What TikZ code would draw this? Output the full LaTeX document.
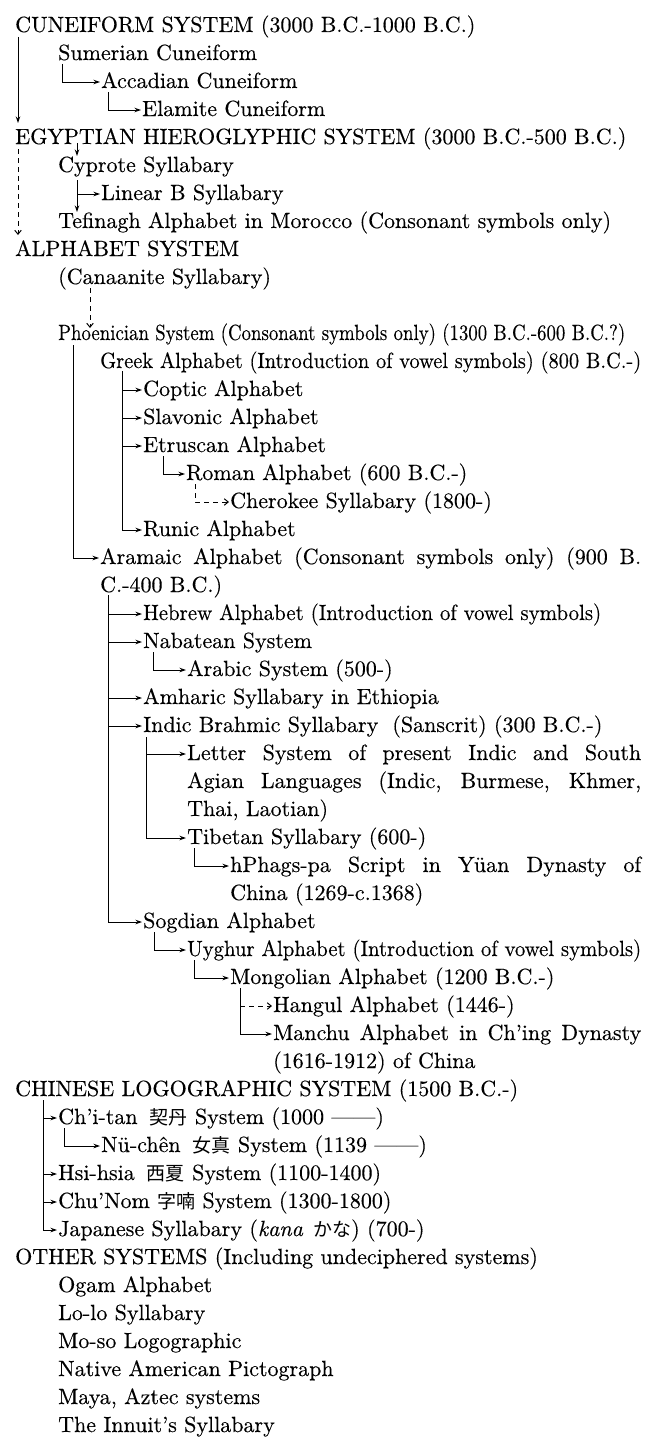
\documentclass[tikz,border=0pt]{standalone}
\usepackage{fontspec}
\setmainfont{lmroman10-regular.otf}[ItalicFont=lmroman10-italic.otf,FakeBold=0.3]
\newfontfamily\cjk{Noto Sans CJK JP}
\usetikzlibrary{arrows.meta,calc}
\newcommand{\cnd}[2]{\resizebox{#1pt}{\height}{#2}}
\newcommand{\jst}[2]{\makebox[#1pt][s]{#2}}
\newcommand{\cj}[1]{{\cjk\fontsize{19}{22}\selectfont #1}}
\begin{document}
\begin{tikzpicture}[x=1pt,y=-1pt,
  t/.style={anchor=base west,inner sep=0pt,font=\fontsize{22}{26}\selectfont},
  ln/.style={line width=1pt,-{Stealth[length=6.5pt,width=4.5pt]}},
  dl/.style={line width=1pt,dash pattern=on 5pt off 4pt,-{Straight Barb[length=4pt,width=6.5pt]}},
]
\useasboundingbox (0,0) rectangle (658,1437);
% ---------- text lines ----------
\node[t] (cun) at (15,32) {CUNEIFORM SYSTEM (3000 B.C.-1000 B.C.)};
\node[t] (sum) at (58,60) {Sumerian Cuneiform};
\node[t] (acc) at (101,88) {Accadian Cuneiform};
\node[t] (ela) at (142,116) {Elamite Cuneiform};
\node[t] (egy) at (15,144) {EGYPTIAN HIEROGLYPHIC SYSTEM (3000 B.C.-500 B.C.)};
\node[t] (cyp) at (58,172) {Cyprote Syllabary};
\node[t] (lin) at (101,200) {Linear B Syllabary};
\node[t] (tef) at (58,228) {Tefinagh Alphabet in Morocco (Consonant symbols only)};
\node[t] (alp) at (15,256) {ALPHABET SYSTEM};
\node[t] (can) at (58,284) {(Canaanite Syllabary)};
\node[t] (pho) at (58,340) {\cnd{567}{Phoenician System (Consonant symbols only) (1300 B.C.-600 B.C.?)}};
\node[t] (gre) at (100,368) {\cnd{541}{Greek Alphabet (Introduction of vowel symbols) (800 B.C.-)}};
\node[t] (cop) at (143,396) {Coptic Alphabet};
\node[t] (sla) at (143,424) {Slavonic Alphabet};
\node[t] (etr) at (143,452) {Etruscan Alphabet};
\node[t] (rom) at (186,480) {Roman Alphabet (600 B.C.-)};
\node[t] (che) at (230,508) {Cherokee Syllabary (1800-)};
\node[t] (run) at (143,536) {Runic Alphabet};
\node[t] (ara) at (100,564) {\jst{541}{Aramaic Alphabet (Consonant symbols only) (900 B.}};
\node[t] (ara2) at (100,592) {C.-400 B.C.)};
\node[t] (heb) at (143,620) {\cnd{458}{Hebrew Alphabet (Introduction of vowel symbols)}};
\node[t] (nab) at (143,648) {Nabatean System};
\node[t] (arb) at (187,676) {Arabic System (500-)};
\node[t] (amh) at (143,704) {Amharic Syllabary in Ethiopia};
\node[t] (ind) at (143,732) {Indic Brahmic Syllabary\hspace{14pt}(Sanscrit) (300 B.C.-)};
\node[t] (let) at (187,760) {\jst{454}{Letter System of present Indic and South}};
\node[t] (let2) at (187,788) {\jst{454}{Agian Languages (Indic, Burmese, Khmer,}};
\node[t] (let3) at (187,816) {Thai, Laotian)};
\node[t] (tib) at (187,844) {Tibetan Syllabary (600-)};
\node[t] (hph) at (230,872) {\jst{411}{hPhags-pa Script in Yüan Dynasty of}};
\node[t] (hph2) at (230,900) {China (1269-c.1368)};
\node[t] (sog) at (143,928) {Sogdian Alphabet};
\node[t] (uyg) at (187,956) {\cnd{454}{Uyghur Alphabet (Introduction of vowel symbols)}};
\node[t] (mon) at (230,984) {Mongolian Alphabet (1200 B.C.-)};
\node[t] (hng) at (273,1012) {Hangul Alphabet (1446-)};
\node[t] (man) at (273,1040) {\jst{368}{Manchu Alphabet in Ch’ing Dynasty}};
\node[t] (man2) at (273,1068) {(1616-1912) of China};
\node[t] (chi) at (15,1096) {CHINESE LOGOGRAPHIC SYSTEM (1500 B.C.-)};
\node[t] (cht) at (58,1124) {Ch’i-tan\hspace{12pt}\cj{契丹} System (1000 ——)};
\node[t] (nuc) at (101,1152) {Nü-chên\hspace{12pt}\cj{女真} System (1139 ——)};
\node[t] (hsi) at (58,1180) {Hsi-hsia\hspace{12pt}\cj{西夏} System (1100-1400)};
\node[t] (chu) at (58,1208) {Chu’Nom \cj{字喃} System (1300-1800)};
\node[t] (jap) at (58,1236) {Japanese Syllabary (\textit{kana}\hspace{10pt}\cj{かな}) (700-)};
\node[t] (oth) at (15,1264) {OTHER SYSTEMS (Including undeciphered systems)};
\node[t] (oga) at (58,1292) {Ogam Alphabet};
\node[t] (lol) at (58,1320) {Lo-lo Syllabary};
\node[t] (mos) at (58,1348) {Mo-so Logographic};
\node[t] (nat) at (58,1376) {Native American Pictograph};
\node[t] (may) at (58,1404) {Maya, Aztec systems};
\node[t] (inn) at (58,1432) {The Innuit’s Syllabary};
% ---------- arrow entry points ----------
\foreach \n in {acc,ela,lin,cop,sla,etr,rom,che,run,ara,heb,nab,arb,amh,ind,let,tib,hph,sog,uyg,mon,hng,man,cht,nuc,hsi,chu,jap}
  {\coordinate (\n-in) at ($(\n.base west)+(-1,-6)$);}
% ---------- vertical starts ----------
\coordinate (cunv) at ($(cun.base west)+(3,5)$);
\coordinate (egyv) at ($(egy.base west)+(3,5)$);
\coordinate (egyc) at ($(egy.base west)+(62,-1)$);
\coordinate (sumv) at ($(sum.base west)+(4,4)$);
\coordinate (accv) at ($(acc.base west)+(7,4)$);
\coordinate (cypv) at ($(cyp.base west)+(19,8)$);
\coordinate (canv) at ($(can.base west)+(32,4)$);
\coordinate (phov) at ($(pho.base west)+(15,5)$);
\coordinate (grev) at ($(gre.base west)+(22,3)$);
\coordinate (etrv) at ($(etr.base west)+(20,4)$);
\coordinate (romv) at ($(rom.base west)+(9,4)$);
\coordinate (arav) at ($(ara2.base west)+(8,3)$);
\coordinate (nabv) at ($(nab.base west)+(10,4)$);
\coordinate (indv) at ($(ind.base west)+(3,5)$);
\coordinate (tibv) at ($(tib.base west)+(7,4)$);
\coordinate (sogv) at ($(sog.base west)+(11,4)$);
\coordinate (uygv) at ($(uyg.base west)+(7,4)$);
\coordinate (monv) at ($(mon.base west)+(10,4)$);
\coordinate (chiv) at ($(chi.base west)+(28,4)$);
\coordinate (chtv) at ($(cht.base west)+(6,4)$);
% ---------- connectors ----------
\draw[ln] (cunv) -- ($(egy.base west)+(3,-21)$);
\draw[ln] (sumv) |- (acc-in);
\draw[ln] (accv) |- (ela-in);
\draw[dl] (egyv) -- ($(alp.base west)+(3,-21)$);
\draw[ln] (egyc) -- ($(cyp.base west)+(19,-16)$);
\draw[ln] (cypv) -- ($(tef.base west)+(19,-16)$);
\draw[ln] (cypv |- lin-in) -- (lin-in);
\draw[dl] (canv) -- ($(pho.base west)+(32,-12)$);
\draw[ln] (phov) |- (ara-in);
\draw[ln] (grev) |- (run-in);
\draw[ln] (grev |- cop-in) -- (cop-in);
\draw[ln] (grev |- sla-in) -- (sla-in);
\draw[ln] (grev |- etr-in) -- (etr-in);
\draw[ln] (etrv) |- (rom-in);
\draw[dl] (romv) |- (che-in);
\draw[ln] (arav) |- (sog-in);
\draw[ln] (arav |- heb-in) -- (heb-in);
\draw[ln] (arav |- nab-in) -- (nab-in);
\draw[ln] (arav |- amh-in) -- (amh-in);
\draw[ln] (arav |- ind-in) -- (ind-in);
\draw[ln] (nabv) |- (arb-in);
\draw[ln] (indv) |- (tib-in);
\draw[ln] (indv |- let-in) -- (let-in);
\draw[ln] (tibv) |- (hph-in);
\draw[ln] (sogv) |- (uyg-in);
\draw[ln] (uygv) |- (mon-in);
\draw[ln] (monv) |- (man-in);
\draw[dl] (monv |- hng-in) -- (hng-in);
\draw[ln] (chiv) |- (jap-in);
\draw[ln] (chiv |- cht-in) -- (cht-in);
\draw[ln] (chiv |- hsi-in) -- (hsi-in);
\draw[ln] (chiv |- chu-in) -- (chu-in);
\draw[ln] (chtv) |- (nuc-in);
\end{tikzpicture}
\end{document}
